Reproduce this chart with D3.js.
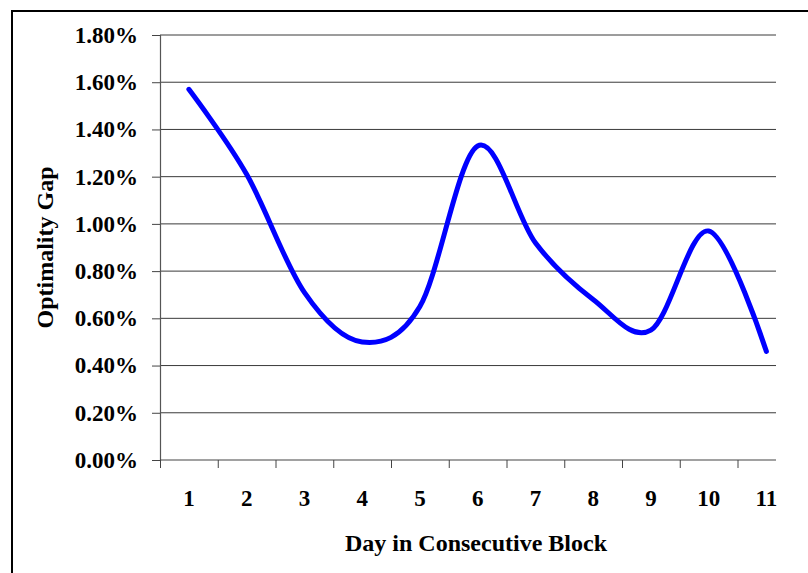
<!DOCTYPE html>
<html>
<head>
<meta charset="utf-8">
<script src="https://cdn.jsdelivr.net/npm/d3@7"></script>
<style>
  html, body { margin: 0; padding: 0; background: #fff; }
  svg { display: block; }
  text { font-family: "Liberation Serif", "Times New Roman", serif; font-weight: bold; fill: #000; }
</style>
</head>
<body>
<svg id="chart" width="808" height="573"></svg>
<script>
// Optimality gap by day within a consecutive block
const days = ["1", "2", "3", "4", "5", "6", "7", "8", "9", "10", "11"];
const gapValues = [0.0157, 0.0121, 0.0071, 0.0050, 0.0065, 0.0133, 0.0092, 0.0068, 0.0055, 0.0097, 0.0046];
const yTicks = [0, 0.002, 0.004, 0.006, 0.008, 0.010, 0.012, 0.014, 0.016, 0.018];
const xTitle = "Day in Consecutive Block";
const yTitle = "Optimality Gap";

const svg = d3.select("#chart");

// frame around the chart
svg.append("path")
  .attr("d", "M12,573 V11 H808")
  .attr("fill", "none")
  .attr("stroke", "#000")
  .attr("stroke-width", 2);

const plotLeft = 160, plotTop = 35, plotBottom = 460, plotRight = 776;
const step = 57.75;

const x = d3.scaleBand().domain(days).range([plotLeft, plotLeft + step * days.length]).padding(0);
const xEdge = d3.scaleLinear().domain([0, days.length]).range([plotLeft, plotLeft + step * days.length]);
const y = d3.scaleLinear().domain([0, 0.018]).range([plotBottom, plotTop]);

// horizontal gridlines
svg.append("g")
  .selectAll("line")
  .data(yTicks.filter(d => d > 0))
  .join("line")
  .attr("x1", plotLeft).attr("x2", plotRight)
  .attr("y1", d => y(d)).attr("y2", d => y(d))
  .attr("stroke", "#3a3a3a")
  .attr("stroke-width", 1);

// y axis
const yAxis = svg.append("g")
  .attr("transform", `translate(${plotLeft},0)`)
  .call(d3.axisLeft(y).tickValues(yTicks).tickFormat(d3.format(".2%")).tickSize(8).tickPadding(14));
yAxis.select(".domain").attr("stroke", "#555").attr("stroke-width", 1.2);
yAxis.selectAll(".tick line").attr("stroke", "#444");
yAxis.selectAll("text").style("font-size", "23px").attr("font-family", null);

// x axis line and category boundary ticks
svg.append("line")
  .attr("x1", plotLeft).attr("x2", plotRight)
  .attr("y1", plotBottom).attr("y2", plotBottom)
  .attr("stroke", "#444").attr("stroke-width", 1.2);
const xTickAxis = svg.append("g")
  .attr("transform", `translate(0,${plotBottom})`)
  .call(d3.axisBottom(xEdge).tickValues(d3.range(0, days.length)).tickFormat("").tickSize(8));
xTickAxis.select(".domain").remove();
xTickAxis.selectAll(".tick line").attr("stroke", "#444");

// category labels
const xLabelAxis = svg.append("g")
  .attr("transform", `translate(0,${plotBottom})`)
  .call(d3.axisBottom(x).tickSize(0).tickPadding(30));
xLabelAxis.select(".domain").remove();
xLabelAxis.selectAll("text").style("font-size", "23px");
xLabelAxis.attr("font-family", null);
yAxis.attr("font-family", null);

// smoothed series line
const line = d3.line()
  .x((d, i) => x(days[i]) + x.bandwidth() / 2)
  .y(d => y(d))
  .curve(d3.curveCardinal.tension(0));

svg.append("path")
  .datum(gapValues)
  .attr("d", line)
  .attr("fill", "none")
  .attr("stroke", "#0000ff")
  .attr("stroke-width", 5)
  .attr("stroke-linecap", "round")
  .attr("stroke-linejoin", "round");

// axis titles
svg.append("text")
  .attr("x", 476).attr("y", 551)
  .attr("text-anchor", "middle")
  .style("font-size", "24px")
  .text(xTitle);

svg.append("text")
  .attr("transform", `translate(53,${(plotTop + plotBottom) / 2}) rotate(-90)`)
  .attr("text-anchor", "middle")
  .style("font-size", "24px")
  .text(yTitle);
</script>
</body>
</html>
